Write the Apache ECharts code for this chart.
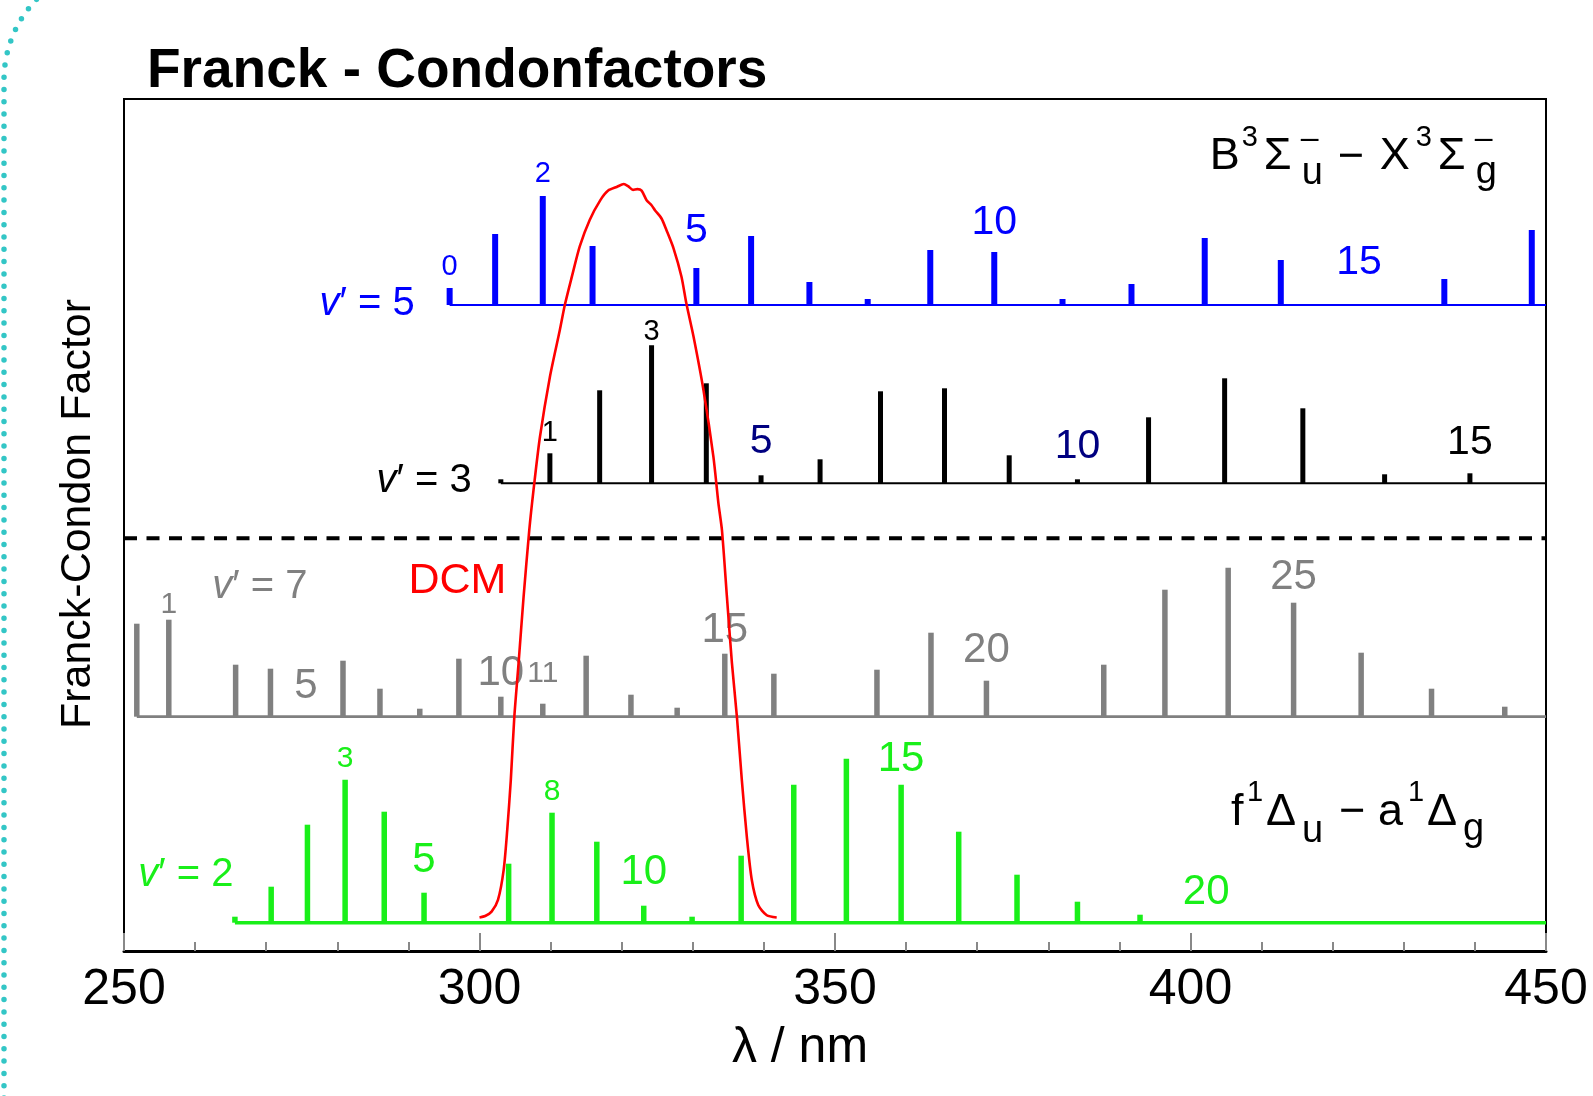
<!DOCTYPE html>
<html>
<head>
<meta charset="utf-8">
<title>Franck-Condon factors</title>
<style>
  html, body { margin: 0; padding: 0; background: #ffffff; }
  #chart { width: 1593px; height: 1096px; }
</style>
<script src="https://cdn.jsdelivr.net/npm/echarts@6/dist/echarts.min.js"></script>
</head>
<body>
<div id="chart"></div>
<script>
// ---------------------------------------------------------------------------
// Data: wavelength of each vibronic band (nm) and its Franck-Condon factor
// (arbitrary units, same scale for all four progressions).
// ---------------------------------------------------------------------------

// B3Σu− – X3Σg− , progression from v' = 5  (index = v'')
const bxV5Wavelength = [295.8, 302.2, 308.9, 315.9, 323.2, 330.5, 338.2, 346.4, 354.6, 363.4,
                        372.4, 382.0, 391.7, 402.0, 412.7, 423.7, 435.7, 448.0];
const bxV5Fcf        = [1.7, 7.1, 10.9, 5.9, 0, 3.7, 6.9, 2.3, 0.6, 5.5,
                        5.3, 0.6, 2.1, 6.7, 4.5, 0, 2.6, 7.5];

// B3Σu− – X3Σg− , progression from v' = 3
const bxV3Wavelength = [303.0, 309.9, 316.9, 324.2, 331.9, 339.6, 347.9, 356.4, 365.4, 374.5,
                        384.1, 394.1, 404.8, 415.8, 427.3, 439.3];
const bxV3Fcf        = [0.4, 3.0, 9.3, 13.8, 10.0, 0.8, 2.4, 9.2, 9.5, 2.8,
                        0.4, 6.6, 10.5, 7.5, 0.9, 1.0];

// f1Δu – a1Δg , progression from v' = 7
const faV7Wavelength = [251.8, 256.3, 261.0, 265.7, 270.6, 275.6, 280.8, 286.0, 291.6, 297.1,
                        303.0, 308.9, 315.0, 321.3, 327.8, 334.5, 341.4, 348.6, 355.9, 363.5,
                        371.3, 379.4, 387.8, 396.4, 405.3, 414.5, 424.0, 433.9, 444.2];
const faV7Fcf        = [9.3, 9.7, 0, 5.2, 4.8, 0, 5.6, 2.8, 0.8, 5.8,
                        2.0, 1.3, 6.1, 2.2, 0.9, 6.3, 4.3, 0, 4.7, 8.4,
                        3.6, 0, 5.2, 12.7, 14.9, 11.4, 6.4, 2.8, 1.0];

// f1Δu – a1Δg , progression from v' = 2
const faV2Wavelength = [265.6, 270.7, 275.8, 281.1, 286.6, 292.2, 298.0, 304.1, 310.2, 316.5,
                        323.1, 329.9, 336.8, 344.2, 351.6, 359.3, 367.4, 375.6, 384.1, 392.9, 402.2];
const faV2Fcf        = [0.6, 3.6, 9.8, 14.3, 11.1, 3.0, 0, 5.9, 11.0, 8.1,
                        1.7, 0.6, 6.7, 13.8, 16.4, 13.8, 9.1, 4.8, 2.1, 0.8, 0];

// DCM dye tuning curve (normalised output vs. frequency-doubled wavelength)
const dcmWavelength = [300.0, 300.8, 301.7, 302.6, 303.4, 303.9, 304.4, 304.9, 305.5, 306.2,
                       307.0, 307.6, 308.5, 309.9, 311.3, 312.0, 313.0, 314.1, 315.5, 317.0,
                       318.1, 319.3, 320.3, 320.9, 321.6, 322.2, 322.8, 323.5, 324.2, 324.7,
                       325.6, 326.3, 327.3, 328.4, 329.1, 330.1, 331.5, 332.9, 333.6, 334.1,
                       334.8, 335.5, 336.2, 336.9, 337.6, 338.3, 339.2, 340.4, 341.8];
const dcmIntensity  = [0.000, 0.002, 0.008, 0.024, 0.065, 0.119, 0.187, 0.274, 0.347, 0.437,
                       0.528, 0.583, 0.655, 0.737, 0.801, 0.835, 0.874, 0.915, 0.951, 0.978,
                       0.991, 0.996, 1.000, 0.997, 0.992, 0.993, 0.991, 0.978, 0.971, 0.964,
                       0.953, 0.937, 0.912, 0.874, 0.837, 0.792, 0.719, 0.628, 0.565, 0.528,
                       0.437, 0.347, 0.274, 0.187, 0.110, 0.051, 0.017, 0.003, 0.000];

// x-axis tick values (nm)
const xTicks = [250, 300, 350, 400, 450];

// Vibrational-number tags: [v'', height of the tag]
const bxV5TagsSmall = [[0, 68.4], [2, 77.7]];
const bxV5TagsLarge = [[5, 72.0], [10, 72.85], [15, 68.8]];
const bxV3TagsSmall = [[1, 51.8], [3, 61.9]];
const bxV3TagsNavy  = [[5, 50.9], [10, 50.4]];
const bxV3TagsLarge = [[15, 50.8]];
const faV7TagsSmall = [[1, 34.6], [11, 27.7]];
const faV7TagsLarge = [[5, 26.5], [10, 27.8], [15, 32.1], [20, 30.1], [25, 37.4]];
const faV2TagsSmall = [[3, 19.2], [8, 15.9]];
const faV2TagsLarge = [[5, 9.1], [10, 7.9], [15, 19.2], [20, 5.9]];

// Upper-state labels: [wavelength, height, v']
const stateLabels = {
  bxV5: [284.2, 64.7, 5],
  bxV3: [292.2, 47.0, 3],
  faV7: [269.1, 36.4, 7],
  faV2: [258.7, 7.6, 2]
};

// Offset of each progression on the common vertical scale
const BASE_BX_V5 = 64.6;
const BASE_BX_V3 = 46.77;
const SEPARATOR  = 41.27;
const BASE_FA_V7 = 23.43;
const BASE_FA_V2 = 2.83;

// ---------------------------------------------------------------------------
const FONT = '"Liberation Sans", Arial, Helvetica, sans-serif';
const X_MIN = xTicks[0], X_MAX = xTicks[xTicks.length - 1];

const BLUE = '#0000ff', BLACK = '#000000', GREY = '#808080',
      GREEN = '#19ef19', RED = '#ff0000', NAVY = '#000080';

function stickSeries(wl, fcf, base, color, width) {
  return {
    type: 'custom', z: 3, silent: true,
    data: wl.map((x, i) => [x, fcf[i]]),
    encode: { x: 0, y: 1 },
    renderItem(params, api) {
      const h = api.value(1);
      if (!(h > 0)) return null;
      const x = api.value(0);
      const p0 = api.coord([x, base]);
      const p1 = api.coord([x, base + h]);
      return {
        type: 'line',
        shape: { x1: p0[0], y1: p0[1], x2: p1[0], y2: p1[1] },
        style: { stroke: color, lineWidth: width, lineCap: 'butt' }
      };
    }
  };
}

function baselineSeries(start, base, color, width, dash) {
  return {
    type: 'line', z: 2, silent: true, symbol: 'none',
    data: [[start, base], [X_MAX, base]],
    lineStyle: { color: color, width: width, type: dash || 'solid', cap: 'butt' }
  };
}

function tagSeries(tags, wl, color, size) {
  return {
    type: 'custom', z: 4, silent: true,
    data: tags.map(([v, y]) => [wl[v], y, v]),
    encode: { x: 0, y: 1 },
    renderItem(params, api) {
      const p = api.coord([api.value(0), api.value(1)]);
      return {
        type: 'text', x: p[0], y: p[1],
        style: {
          text: String(api.value(2)), fill: color,
          font: size + 'px ' + FONT,
          align: 'center', verticalAlign: 'middle'
        }
      };
    }
  };
}

function stateSeries(item, color) {
  return {
    type: 'custom', z: 4, silent: true,
    data: [item],
    encode: { x: 0, y: 1 },
    renderItem(params, api) {
      const p = api.coord([api.value(0), api.value(1)]);
      return {
        type: 'text', x: p[0], y: p[1],
        style: {
          text: '{i|v}′ = ' + api.value(2), fill: color,
          font: '40px ' + FONT,
          align: 'center', verticalAlign: 'middle',
          rich: { i: { fontStyle: 'italic', fontSize: 40, fontFamily: FONT, fill: color } }
        }
      };
    }
  };
}

// Term-symbol label drawn from pieces: [text, dx, baseline shift, font size]
function termSeries(anchor, pieces) {
  return {
    type: 'custom', z: 4, silent: true,
    data: [anchor],
    encode: { x: 0, y: 1 },
    renderItem(params, api) {
      const p = api.coord([api.value(0), api.value(1)]);
      return {
        type: 'group',
        children: pieces.map(([t, dx, dy, size]) => ({
          type: 'text', x: p[0] + dx, y: p[1] + dy - 0.3465 * size,
          style: { text: t, fill: BLACK, font: size + 'px ' + FONT,
                   align: 'left', verticalAlign: 'middle' }
        }))
      };
    }
  };
}

const bxTerm = [
  ['B', 0, 0, 45], ['3', 32, -24, 29], ['Σ', 54, 0, 45],
  ['–', 91, -22, 32], ['u', 92, 15, 38],
  ['−', 128, 1, 45],
  ['X', 170, 0, 45], ['3', 206, -24, 29], ['Σ', 228, 0, 45],
  ['–', 265, -22, 32], ['g', 266, 14, 38]
];
const faTerm = [
  ['f', 0, 0, 45], ['1', 16, -25, 29], ['Δ', 35, 0, 45], ['u', 71, 17, 38],
  ['−', 108, 0, 45],
  ['a', 147, 0, 45], ['1', 177, -25, 29], ['Δ', 196, 0, 45], ['g', 232, 15, 38]
];

const chart = echarts.init(document.getElementById('chart'), null, { renderer: 'canvas' });

const option = {
  animation: false,
  backgroundColor: '#ffffff',
  textStyle: { fontFamily: FONT },
  grid: {
    left: 124, top: 99, width: 1422, height: 852,
    show: true, borderColor: '#000', borderWidth: 2, backgroundColor: 'transparent',
    containLabel: false, outerBoundsMode: 'none'
  },
  xAxis: {
    type: 'value', min: X_MIN, max: X_MAX, interval: 50,
    name: 'λ / nm', nameLocation: 'middle', nameGap: 72,
    nameTextStyle: { fontSize: 50, color: '#000', fontFamily: FONT, padding: [0, 70, 0, 0] },
    axisLine: { show: true, onZero: false, lineStyle: { color: '#000', width: 3 } },
    axisTick: { show: true, inside: true, length: 18, lineStyle: { color: '#888', width: 2 } },
    minorTick: { show: true, splitNumber: 5, length: 9, lineStyle: { color: '#888', width: 2 } },
    axisLabel: { fontSize: 50, color: '#000', margin: 14, fontFamily: FONT },
    splitLine: { show: false }, minorSplitLine: { show: false }
  },
  yAxis: [
    {
      type: 'value', min: 0, max: 85.2,
      name: 'Franck-Condon Factor', nameLocation: 'middle', nameGap: 24, nameRotate: 90,
      nameTextStyle: { fontSize: 43, color: '#000', fontFamily: FONT, padding: [0, 0, 0, 22] },
      axisLine: { show: false }, axisTick: { show: false },
      axisLabel: { show: false }, splitLine: { show: false }
    },
    { type: 'value', min: -0.0457, max: 1.1159, show: false }
  ],
  graphic: [
    {
      type: 'rect', silent: true, z: 0,
      shape: { x: 4, y: -36, width: 4000, height: 4000, r: 116 },
      style: { fill: 'none', stroke: '#33c6c6', lineWidth: 5.5, lineDash: [0, 12.3], lineCap: 'round' }
    },
    {
      type: 'text', x: 147, y: 72, silent: true,
      style: { text: 'Franck - Condonfactors', fill: '#000',
               font: 'bold 55px ' + FONT, align: 'left', verticalAlign: 'middle' }
    }
  ],
  series: [
    baselineSeries(X_MIN, SEPARATOR, BLACK, 4, [13, 9.5]),
    baselineSeries(bxV5Wavelength[0], BASE_BX_V5, BLUE, 2),
    baselineSeries(bxV3Wavelength[0], BASE_BX_V3, BLACK, 2),
    baselineSeries(faV7Wavelength[0], BASE_FA_V7, GREY, 2.8),
    baselineSeries(faV2Wavelength[0], BASE_FA_V2, GREEN, 3.4),

    stickSeries(bxV5Wavelength, bxV5Fcf, BASE_BX_V5, BLUE, 6),
    stickSeries(bxV3Wavelength, bxV3Fcf, BASE_BX_V3, BLACK, 5),
    stickSeries(faV7Wavelength, faV7Fcf, BASE_FA_V7, GREY, 5.5),
    stickSeries(faV2Wavelength, faV2Fcf, BASE_FA_V2, GREEN, 5.5),

    tagSeries(bxV5TagsSmall, bxV5Wavelength, BLUE, 29),
    tagSeries(bxV5TagsLarge, bxV5Wavelength, BLUE, 41),
    tagSeries(bxV3TagsSmall, bxV3Wavelength, BLACK, 29),
    tagSeries(bxV3TagsNavy, bxV3Wavelength, NAVY, 41),
    tagSeries(bxV3TagsLarge, bxV3Wavelength, BLACK, 41),
    tagSeries(faV7TagsSmall, faV7Wavelength, GREY, 30),
    tagSeries(faV7TagsLarge, faV7Wavelength, GREY, 42),
    tagSeries(faV2TagsSmall, faV2Wavelength, GREEN, 30),
    tagSeries(faV2TagsLarge, faV2Wavelength, GREEN, 42),

    stateSeries(stateLabels.bxV5, BLUE),
    stateSeries(stateLabels.bxV3, BLACK),
    stateSeries(stateLabels.faV7, GREY),
    stateSeries(stateLabels.faV2, GREEN),

    termSeries([402.7, 77.9], bxTerm),
    termSeries([405.7, 12.3], faTerm),

    {
      type: 'custom', z: 4, silent: true,
      data: [[296.9, 37.0]], encode: { x: 0, y: 1 },
      renderItem(params, api) {
        const p = api.coord([api.value(0), api.value(1)]);
        return { type: 'text', x: p[0], y: p[1],
                 style: { text: 'DCM', fill: RED, font: '43px ' + FONT,
                          align: 'center', verticalAlign: 'middle' } };
      }
    },
    {
      type: 'line', name: 'DCM', yAxisIndex: 1, z: 6, silent: true,
      symbol: 'none', smooth: 0.25,
      data: dcmWavelength.map((x, i) => [x, dcmIntensity[i]]),
      lineStyle: { color: RED, width: 2.6 }
    }
  ]
};

chart.setOption(option);
</script>
</body>
</html>
